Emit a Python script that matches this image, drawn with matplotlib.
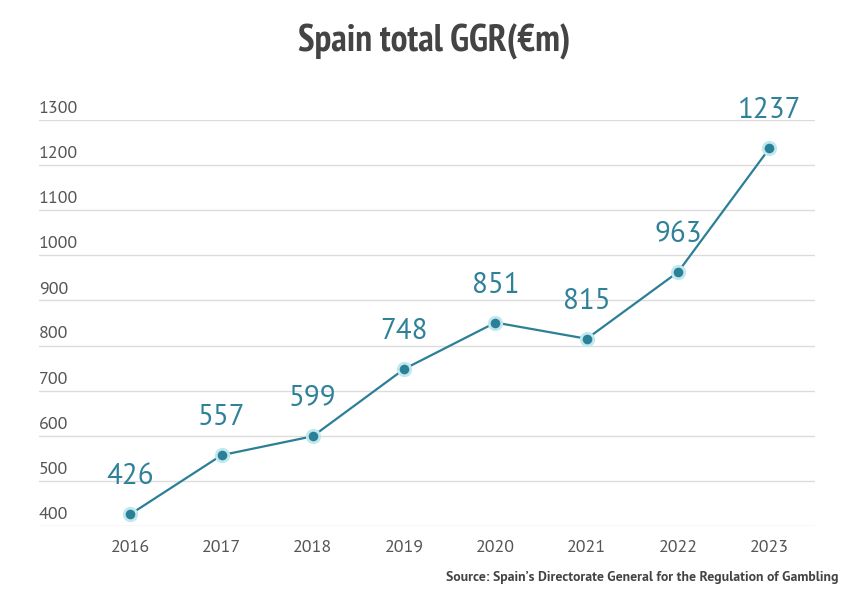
import matplotlib
matplotlib.use("Agg")
import matplotlib.pyplot as plt
from matplotlib import font_manager as fm

years = [2016, 2017, 2018, 2019, 2020, 2021, 2022, 2023]
ggr = [426, 557, 599, 748, 851, 815, 963, 1237]
yticks = [400, 500, 600, 700, 800, 900, 1000, 1100, 1200, 1300]
title = "Spain total GGR(€m)"
source = "Source: Spain\u2019s Directorate General for the Regulation of Gambling"

names = {f.name for f in fm.fontManager.ttflist}
def pick(*opts):
    for o in opts:
        if o in names:
            return o
    return "DejaVu Sans"

narrow = pick("PT Sans Narrow", "Fira Sans Condensed", "Asap Condensed", "Archivo Narrow", "Barlow Condensed")
body = pick("PT Sans", "Fira Sans", "Lato")

line_col = "#2b7f97"
label_col = "#2f8099"
grid_col = "#dcdcdc"
text_col = "#555555"

fig = plt.figure(figsize=(8.59, 6.01), dpi=100)
ax = fig.add_axes([39/859, 1-526/601, (815-39)/859, (526-120)/601])
ax.set_xlim(2015.0, 2023.5)
ax.set_ylim(400, 1300)

for v in yticks:
    ax.axhline(v, color=grid_col, lw=1, zorder=0)
    ax.text(0.0, v + 7, str(v), transform=ax.get_yaxis_transform(), ha="left", va="bottom",
            fontsize=13, color=text_col, family=body)

for s in ax.spines.values():
    s.set_visible(False)
ax.set_yticks([])
ax.set_xticks(years)
ax.set_xticklabels([str(y) for y in years], fontsize=13, color=text_col, family=body)
ax.tick_params(axis="x", length=0, pad=10)

ax.plot(years, ggr, color=line_col, lw=1.6, zorder=2, clip_on=False)
ax.scatter(years, ggr, s=120, color="#bfe8ef", zorder=3, clip_on=False, linewidths=0)
ax.scatter(years, ggr, s=48, color=line_col, zorder=4, clip_on=False, linewidths=0)

for x, y in zip(years, ggr):
    ax.annotate(str(y), (x, y), xytext=(0, 27), textcoords="offset points",
                ha="center", va="center", fontsize=21, color=label_col, family=body)

fig.text(434/859, 1-42/601, title, ha="center", va="center", fontsize=27,
         fontweight="bold", color="#444444", family=narrow)
fig.text(838/859, 1-577/601, source, ha="right", va="center", fontsize=9.9,
         fontweight="bold", color="#444444", family=body)

fig.savefig("out.png", dpi=100)
